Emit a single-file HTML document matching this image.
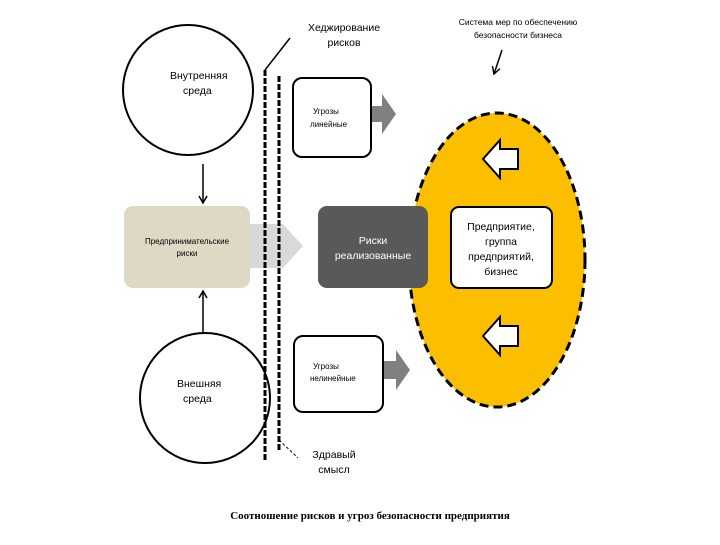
<!DOCTYPE html>
<html><head><meta charset="utf-8"><style>
body{margin:0;width:720px;height:540px;background:#fff;overflow:hidden}
svg{font-family:"Liberation Sans","DejaVu Sans",sans-serif}
</style></head><body>
<svg width="720" height="540" viewBox="0 0 720 540" xmlns="http://www.w3.org/2000/svg">
<defs><marker id="a" markerWidth="10" markerHeight="10" refX="8" refY="5" orient="auto" markerUnits="userSpaceOnUse"><path d="M1,1 L8,5 L1,9" fill="none" stroke="#000" stroke-width="1.5"/></marker></defs>
<ellipse cx="497" cy="260" rx="88" ry="147" fill="#fbbf00" stroke="#000" stroke-width="3" stroke-dasharray="9,5"/>
<circle cx="188" cy="90" r="65" fill="#fff" stroke="#000" stroke-width="2"/>
<circle cx="205" cy="398" r="65" fill="#fff" stroke="#000" stroke-width="2"/>
<text x="170" y="79" font-size="10.5">Внутренняя</text><text x="183" y="94" font-size="10.5">среда</text>
<text x="177" y="387" font-size="10.5">Внешняя</text><text x="183" y="402" font-size="10.5">среда</text>
<line x1="203" y1="164" x2="203" y2="203" stroke="#000" stroke-width="1.5" marker-end="url(#a)"/>
<line x1="203" y1="333" x2="203" y2="291" stroke="#000" stroke-width="1.5" marker-end="url(#a)"/>
<polygon points="250,224 283,224 303,246 283,268 250,268" fill="#d9d9d9"/>
<rect x="124" y="206" width="126" height="82" rx="9" fill="#ddd9c4"/>
<text x="187" y="244" font-size="8" text-anchor="middle">Предпринимательские</text>
<text x="187" y="256" font-size="8" text-anchor="middle">риски</text>
<line x1="265" y1="70" x2="265" y2="462" stroke="#000" stroke-width="3" stroke-dasharray="6,2"/>
<line x1="265" y1="70" x2="290" y2="38" stroke="#000" stroke-width="1.5"/>
<line x1="279" y1="76" x2="279" y2="450" stroke="#000" stroke-width="3" stroke-dasharray="6,2"/>
<line x1="279" y1="440" x2="298" y2="458" stroke="#000" stroke-width="1" stroke-dasharray="3,2"/>
<text x="344" y="31" font-size="10.5" text-anchor="middle">Хеджирование</text>
<text x="344" y="46" font-size="10.5" text-anchor="middle">рисков</text>
<text x="518" y="25" font-size="8.5" text-anchor="middle">Система мер по обеспечению</text>
<text x="518" y="38" font-size="8.5" text-anchor="middle">безопасности бизнеса</text>
<line x1="502" y1="50" x2="494" y2="74" stroke="#000" stroke-width="1.5" marker-end="url(#a)"/>
<polygon points="368,106 382,106 382,94 396,114 382,134 382,122 368,122" fill="#808080"/>
<rect x="293" y="78" width="78" height="79" rx="9" fill="#fff" stroke="#000" stroke-width="2"/>
<text x="313" y="114" font-size="8">Угрозы</text><text x="310" y="127" font-size="8">линейные</text>
<polygon points="383,361 396,361 396,350 410,370 396,390 396,379 383,379" fill="#808080"/>
<rect x="294" y="336" width="89" height="76" rx="9" fill="#fff" stroke="#000" stroke-width="2"/>
<text x="313" y="369" font-size="8">Угрозы</text><text x="310" y="381" font-size="8">нелинейные</text>
<rect x="318" y="206" width="110" height="82" rx="9" fill="#595959"/>
<text x="373" y="244" font-size="10.5" fill="#fff" text-anchor="middle">Риски</text>
<text x="373" y="259" font-size="10.5" fill="#fff" text-anchor="middle">реализованные</text>
<rect x="451" y="207" width="101" height="81" rx="8" fill="#fff" stroke="#000" stroke-width="2"/>
<text x="501" y="230" font-size="10.5" text-anchor="middle">Предприятие,</text>
<text x="501" y="245" font-size="10.5" text-anchor="middle">группа</text>
<text x="501" y="260" font-size="10.5" text-anchor="middle">предприятий,</text>
<text x="501" y="275" font-size="10.5" text-anchor="middle">бизнес</text>
<polygon points="483,159 500,140 500,149 518,149 518,169 500,169 500,178" fill="#fff" stroke="#000" stroke-width="2"/>
<polygon points="483,336 500,317 500,326 518,326 518,346 500,346 500,355" fill="#fff" stroke="#000" stroke-width="2"/>
<text x="334" y="458" font-size="10.5" text-anchor="middle">Здравый</text>
<text x="334" y="473" font-size="10.5" text-anchor="middle">смысл</text>
<text x="370" y="519" font-size="11" font-weight="bold" font-family="Liberation Serif,serif" text-anchor="middle">Соотношение рисков и угроз безопасности предприятия</text>
</svg>
</body></html>
